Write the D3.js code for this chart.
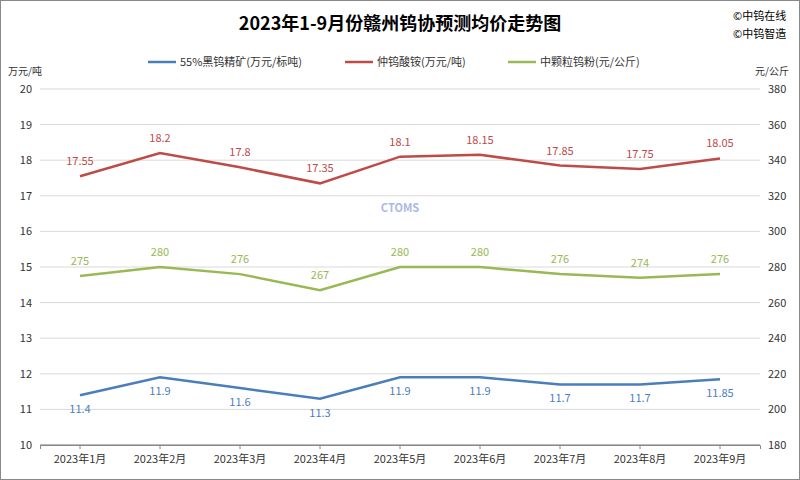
<!DOCTYPE html>
<html><head><meta charset="utf-8">
<script src="https://cdn.jsdelivr.net/npm/d3@7"></script>
<style>body{margin:0;background:#fff}</style></head>
<body><svg id="c" width="800" height="480"></svg>
<script>
const categories=["2023年1月","2023年2月","2023年3月","2023年4月","2023年5月","2023年6月","2023年7月","2023年8月","2023年9月"];
const concentrate=[11.4,11.9,11.6,11.3,11.9,11.9,11.7,11.7,11.85];
const apt=[17.55,18.2,17.8,17.35,18.1,18.15,17.85,17.75,18.05];
const powder=[275,280,276,267,280,280,276,274,276];
const leftTicks=[10,11,12,13,14,15,16,17,18,19,20];
const rightTicks=[180,200,220,240,260,280,300,320,340,360,380];

const svg=d3.select("#c");
const F="'Noto Sans CJK SC',sans-serif";
svg.append("rect").attr("x",0.5).attr("y",0.5).attr("width",799).attr("height",479).attr("fill","#fff").attr("stroke","#888");
const L=40,R=760,T=89,B=445;
const x=d3.scaleBand().domain(categories).range([L,R]);
const yl=d3.scaleLinear().domain([10,20]).range([B,T]);
const yr=d3.scaleLinear().domain([180,380]).range([B,T]);
svg.append("g").selectAll("line").data(leftTicks).join("line")
 .attr("x1",L).attr("x2",R).attr("y1",d=>yl(d)).attr("y2",d=>yl(d)).attr("stroke","#d9d9d9");
svg.append("text").attr("x",400).attr("y",212).attr("text-anchor","middle").attr("font-family",F).attr("font-weight","bold")
 .attr("font-size",11).attr("fill","#aab8e6").text("CTOMS");
const ga=svg.append("g").attr("transform",`translate(${L},0)`).call(d3.axisLeft(yl).tickValues(leftTicks).tickSize(0).tickPadding(8));
const gb=svg.append("g").attr("transform",`translate(${R},0)`).call(d3.axisRight(yr).tickValues(rightTicks).tickSize(0).tickPadding(8));
const gx=svg.append("g").attr("transform",`translate(0,${B})`).call(d3.axisBottom(x).tickSize(4).tickPadding(6));
[ga,gb,gx].forEach(g=>{g.selectAll("text").attr("font-family",F).attr("font-size",11).attr("fill","#333");g.select(".domain").attr("stroke","#888");g.selectAll("line").attr("stroke","#888");});
ga.select(".domain").remove();gb.select(".domain").remove();
svg.append("line").attr("x1",L).attr("x2",R).attr("y1",B).attr("y2",B).attr("stroke","#888");
svg.append("text").attr("x",400).attr("y",30).attr("text-anchor","middle").attr("font-family",F).attr("font-weight","bold").attr("font-size",18).text("2023年1-9月份赣州钨协预测均价走势图");
svg.append("text").attr("x",733).attr("y",20).attr("font-family",F).attr("font-size",11).text("©中钨在线");
svg.append("text").attr("x",733).attr("y",38).attr("font-family",F).attr("font-size",11).text("©中钨智造");
svg.append("text").attr("x",8).attr("y",75).attr("font-family",F).attr("font-size",10).attr("fill","#333").text("万元/吨");
svg.append("text").attr("x",755).attr("y",75).attr("font-family",F).attr("font-size",10).attr("fill","#333").text("元/公斤");
const series=[
 {name:"55%黑钨精矿(万元/标吨)",data:concentrate,y:yl,c:"#4a7ebb",dy:18,lx:148},
 {name:"仲钨酸铵(万元/吨)",data:apt,y:yl,c:"#be4b48",dy:-11,lx:345},
 {name:"中颗粒钨粉(元/公斤)",data:powder,y:yr,c:"#98b954",dy:-11,lx:508}];
series.forEach(s=>{
 svg.append("path").attr("fill","none").attr("stroke",s.c).attr("stroke-width",2.5)
  .attr("d",d3.line().x((d,i)=>x(categories[i])+x.bandwidth()/2).y(d=>s.y(d))(s.data));
 svg.append("g").selectAll("text").data(s.data).join("text")
  .attr("x",(d,i)=>x(categories[i])+x.bandwidth()/2).attr("y",d=>s.y(d)+s.dy).attr("text-anchor","middle")
  .attr("font-family",F).attr("font-size",11).attr("fill",s.c).text(d=>d);
 svg.append("line").attr("x1",s.lx).attr("x2",s.lx+28).attr("y1",62).attr("y2",62).attr("stroke",s.c).attr("stroke-width",2.5);
 svg.append("text").attr("x",s.lx+32).attr("y",66).attr("font-family",F).attr("font-size",11).attr("fill","#333").text(s.name);
});
</script></body></html>
